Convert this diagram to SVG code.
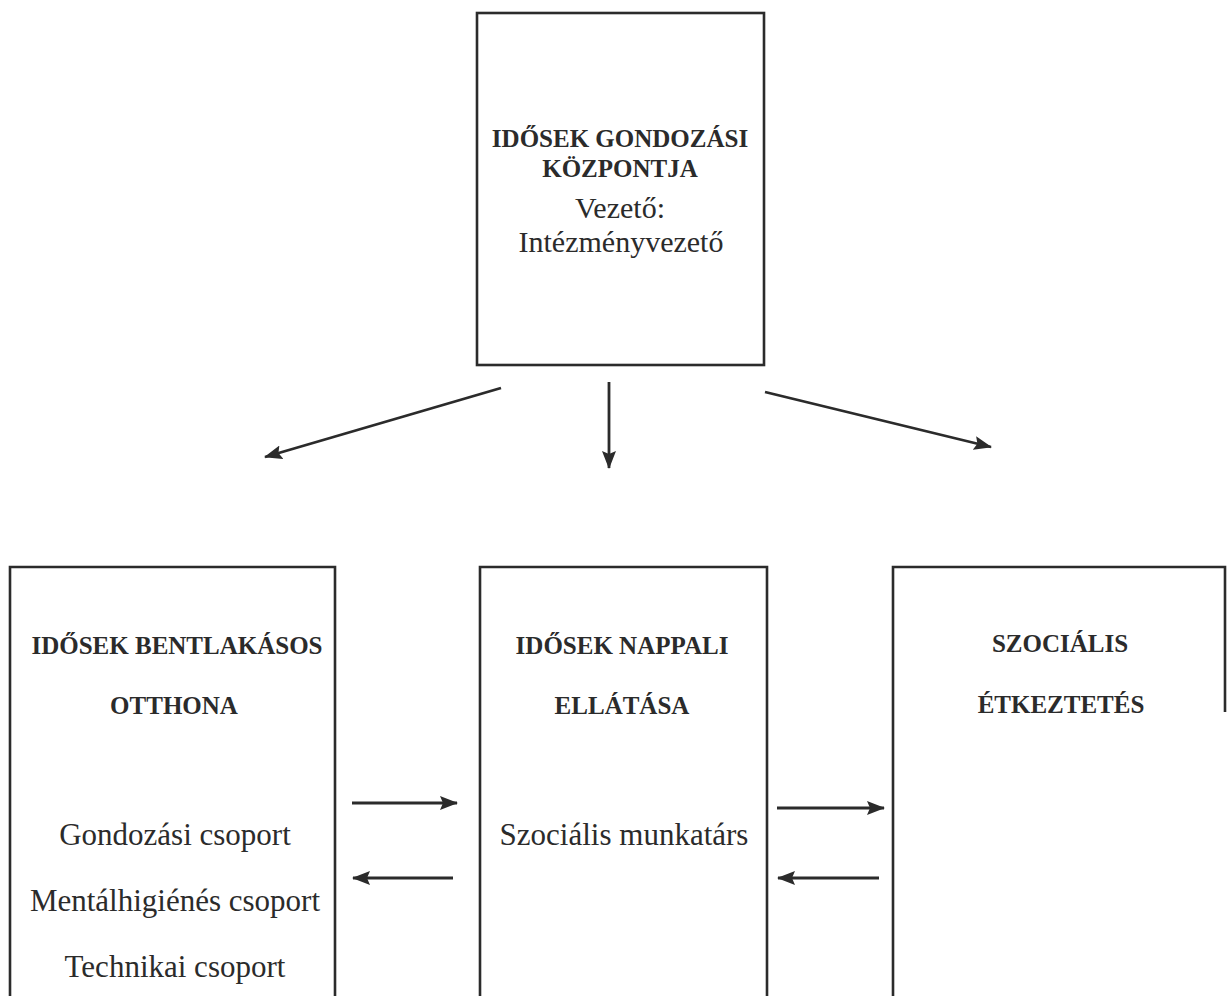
<svg xmlns="http://www.w3.org/2000/svg" width="1227" height="996" viewBox="0 0 1227 996">
<style>
.box{fill:none;stroke:#2b2b2b;stroke-width:2.6}
.b{font-family:"Liberation Serif",serif;font-weight:bold;font-size:25px;fill:#2b2b2b;text-anchor:middle}
.r{font-family:"Liberation Serif",serif;font-size:31px;fill:#2b2b2b;text-anchor:middle}
.t{font-size:30px}
.c{stroke:#2b2b2b;stroke-width:2.8;fill:none;marker-end:url(#ah)}
</style>
<defs>
<marker id="ah" markerUnits="userSpaceOnUse" markerWidth="18" markerHeight="14" refX="17" refY="7" orient="auto">
<path d="M0,0 L18,7 L0,14 L3,7 z" fill="#2b2b2b"/>
</marker>
</defs>
<rect width="1227" height="996" fill="#ffffff"/>
<g id="kozpont">
<rect class="box" x="477" y="13" width="287" height="352"/>
<text class="b" x="620" y="147">IDŐSEK GONDOZÁSI</text>
<text class="b" x="620" y="177">KÖZPONTJA</text>
<text class="r t" x="620" y="218">Vezető:</text>
<text class="r t" x="621" y="252">Intézményvezető</text>
</g>
<g id="bentlakasos">
<path class="box" d="M10,996 V567 H335 V996"/>
<text class="b" x="177" y="654">IDŐSEK BENTLAKÁSOS</text>
<text class="b" x="174" y="714">OTTHONA</text>
<text class="r" x="175" y="845">Gondozási csoport</text>
<text class="r" x="175" y="911">Mentálhigiénés csoport</text>
<text class="r" x="175" y="977">Technikai csoport</text>
</g>
<g id="nappali">
<path class="box" d="M480,996 V567 H767 V996"/>
<text class="b" x="622" y="654">IDŐSEK NAPPALI</text>
<text class="b" x="622" y="714">ELLÁTÁSA</text>
<text class="r" x="624" y="845">Szociális munkatárs</text>
</g>
<g id="etkeztetes">
<path class="box" d="M893,996 V567 H1225 V712"/>
<text class="b" x="1060" y="652">SZOCIÁLIS</text>
<text class="b" x="1061" y="713">ÉTKEZTETÉS</text>
</g>
<g id="connectors">
<line class="c" x1="501" y1="388" x2="265" y2="457"/>
<line class="c" x1="609" y1="382" x2="609" y2="468"/>
<line class="c" x1="765" y1="392" x2="991" y2="447"/>
<line class="c" x1="352" y1="803" x2="457" y2="803"/>
<line class="c" x1="453" y1="878" x2="353" y2="878"/>
<line class="c" x1="777" y1="808" x2="884" y2="808"/>
<line class="c" x1="879" y1="878" x2="778" y2="878"/>
</g>
</svg>
